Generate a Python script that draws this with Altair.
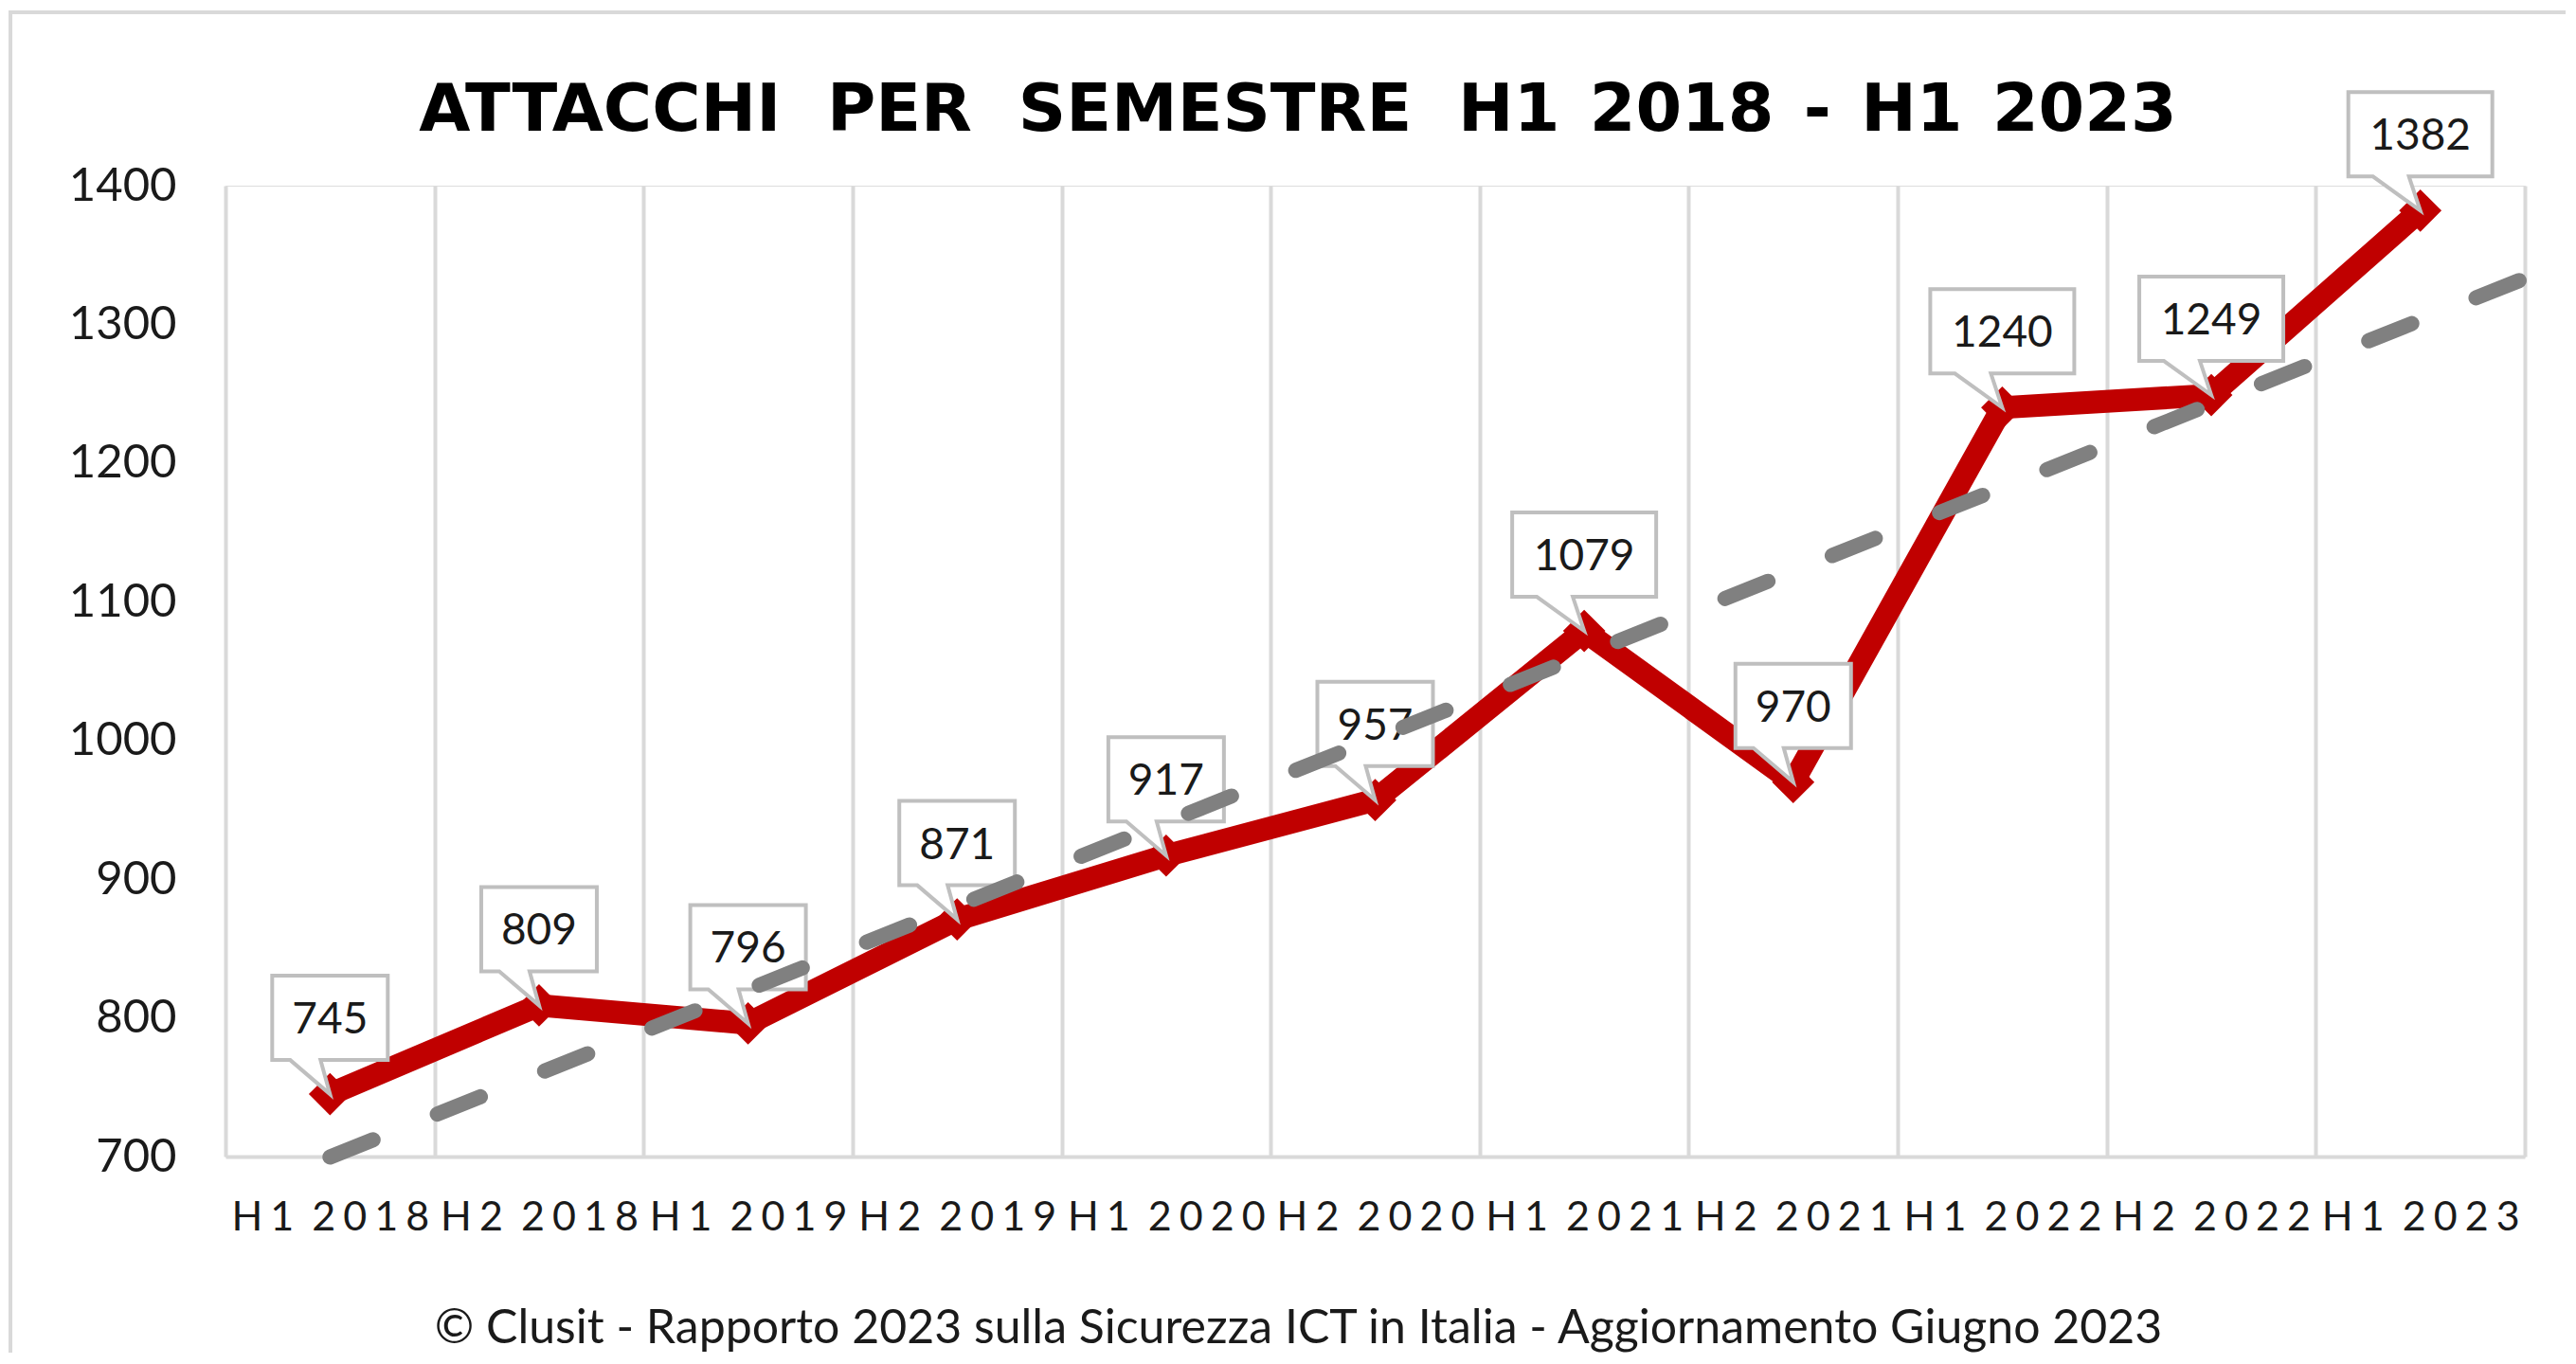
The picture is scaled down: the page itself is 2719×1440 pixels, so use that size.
import json
import altair as alt
import pandas as pd

# ---------------- data ----------------
periods = ["H1 2018", "H2 2018", "H1 2019", "H2 2019", "H1 2020", "H2 2020",
           "H1 2021", "H2 2021", "H1 2022", "H2 2022", "H1 2023"]
attacks = [745, 809, 796, 871, 917, 957, 1079, 970, 1240, 1249, 1382]
y_ticks = [700, 800, 900, 1000, 1100, 1200, 1300, 1400]

title_words = ["ATTACCHI", "PER", "SEMESTRE", "H1", "2018", "-", "H1", "2023"]
footer_text = "\u00a9 Clusit - Rapporto 2023 sulla Sicurezza ICT in Italia - Aggiornamento Giugno 2023"

# ---------------- styling ----------------
RED = "#C00000"
GREY = "#808080"
GRID = "#d9d9d9"
TXT = "#1a1a1a"
FONT = "Lato"

W, H = 2427, 1025
CANVAS_W, CANVAS_H = 2700, 1420
PAD_L, PAD_T = 230, 188
CENTER_X = 1132  # horizontal centre of title/footer, relative to plot left

# title with the wide word spacing of the original
WIDE, NARROW = "\u00a0\u00a0", "\u00a0\u200a"
title_text = (WIDE.join(title_words[:4]) + NARROW + NARROW.join(title_words[4:]))

# letter-spaced tick labels like the original
LS = "\u2009\u200a"
spaced = [LS.join(list(p)).replace(LS + " " + LS, "\u00a0" + LS) for p in periods]

df = pd.DataFrame({
    "idx": list(range(len(periods))),
    "period": periods,
    "value": attacks,
    "label": [str(v) for v in attacks],
    "ndig": [str(len(str(v))) for v in attacks],
})

n = len(periods)
tick_vals = [i * 0.5 - 0.5 for i in range(2 * n + 1)]
label_expr = ("datum.value % 1 === 0 ? " + json.dumps(spaced, ensure_ascii=False)
              + "[datum.value] : ''")

x_scale = alt.Scale(domain=[-0.5, n - 0.5], nice=False, zero=False)
y_scale = alt.Scale(domain=[700, 1400], nice=False, zero=False)

x_axis = alt.Axis(
    values=tick_vals, labelExpr=label_expr, labelOverlap=False, labelFlush=False,
    labelLimit=0,
    grid=True, gridColor=GRID, gridWidth=4,
    gridOpacity={"condition": {"test": "datum.value % 1 === 0", "value": 0}, "value": 1},
    ticks=False, tickSize=0, domain=True, domainColor=GRID, domainWidth=4,
    labelFont=FONT, labelFontSize=43, labelColor=TXT, labelPadding=64,
    labelBaseline="middle",
    title=footer_text, titleFont=FONT, titleFontSize=50, titleFontWeight="normal",
    titleColor=TXT, titleX=CENTER_X, titleY=181, titleBaseline="middle", titleAlign="center",
)
y_axis = alt.Axis(
    values=y_ticks, format="d", grid=False, ticks=False, tickSize=0, domain=False,
    labelFont=FONT, labelFontSize=49, labelColor=TXT, labelPadding=52, title=None,
)

base = alt.Chart(df)
one = pd.DataFrame({"t": [title_text]})

# outer frame (decoration, only its top and left edges are on screen)
frame = alt.Chart(one).mark_rect(
    fillOpacity=0, stroke=GRID, strokeWidth=4
).encode(
    x=alt.value(-PAD_L + 3), y=alt.value(-PAD_T + 5),
    x2=alt.value(CANVAS_W + 40), y2=alt.value(CANVAS_H + 40),
)

title = alt.Chart(one).mark_text(
    font="DejaVu Sans", fontSize=70, fontWeight="bold", color="#000000",
    align="center", baseline="alphabetic"
).encode(x=alt.value(CENTER_X), y=alt.value(-58), text="t:N")

line = base.mark_line(color=RED, strokeWidth=24).encode(
    x=alt.X("idx:Q", scale=x_scale, axis=x_axis),
    y=alt.Y("value:Q", scale=y_scale, axis=y_axis),
)

markers = base.mark_point(shape="square", angle=45, filled=True, size=1000,
                          color=RED, opacity=1).encode(
    x=alt.X("idx:Q", scale=x_scale),
    y=alt.Y("value:Q", scale=y_scale),
)

path3 = "M0,0 L-10,-36 L61,-36 L61,-125 L-61,-125 L-61,-36 L-42,-36 Z"
path4 = "M0,0 L-12,-36 L76,-36 L76,-125 L-76,-125 L-76,-36 L-50,-36 Z"

callouts = base.mark_point(filled=True, fill="white", stroke="#bfbfbf",
                           strokeWidth=4, size=4, opacity=1).encode(
    x=alt.X("idx:Q", scale=x_scale),
    y=alt.Y("value:Q", scale=y_scale),
    shape=alt.Shape("ndig:N", scale=alt.Scale(domain=["3", "4"], range=[path3, path4]),
                    legend=None),
)

labels = base.mark_text(font=FONT, fontSize=46, color=TXT, baseline="middle",
                        align="center", dy=-78).encode(
    x=alt.X("idx:Q", scale=x_scale),
    y=alt.Y("value:Q", scale=y_scale),
    text="label:N",
)

trend = base.transform_regression("idx", "value", extent=[0, n - 0.5]).mark_line(
    color=GREY, strokeWidth=16, strokeDash=[49, 73], strokeCap="round"
).encode(
    x=alt.X("idx:Q", scale=x_scale),
    y=alt.Y("value:Q", scale=y_scale),
)

chart = alt.layer(frame, line, markers, callouts, labels, trend, title).properties(
    width=W, height=H,
    autosize=alt.AutoSizeParams(type="none"),
    padding={"left": PAD_L, "top": PAD_T,
             "right": CANVAS_W - PAD_L - W, "bottom": CANVAS_H - PAD_T - H},
).configure_view(stroke=None).configure(background="white")

chart.save("out.html", embed_options={"renderer": "svg", "actions": False})
